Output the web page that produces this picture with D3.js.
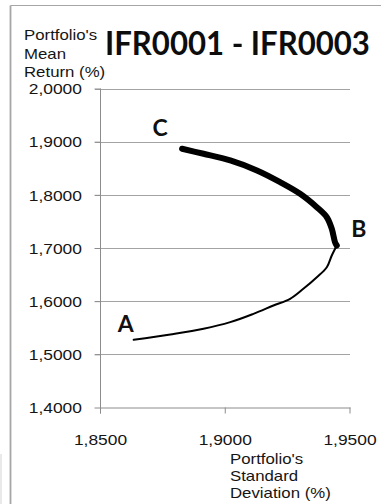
<!DOCTYPE html>
<html>
<head>
<meta charset="utf-8">
<script src="https://cdn.jsdelivr.net/npm/d3@7"></script>
<style>
  html, body { margin: 0; padding: 0; background: #fff; }
  svg { display: block; }
</style>
</head>
<body>
<svg id="chart" width="381" height="504"></svg>
<script>
// Two-asset portfolio frontier for IFR0001 / IFR0003 (std. deviation vs mean return, %)
const chartTitle = "IFR0001 - IFR0003";
const yTitleLines = ["Portfolio's", "Mean", "Return (%)"];
const xTitleLines = ["Portfolio's", "Standard", "Deviation (%)"];

const xTicks = [1.85, 1.90, 1.95];
const yTicks = [1.4, 1.5, 1.6, 1.7, 1.8, 1.9, 2.0];

// Lower (inefficient) branch, from A up to the minimum-variance point B
const lowerStd = [1.8633, 1.8780, 1.8913, 1.9020, 1.9113, 1.9193, 1.9260, 1.9313, 1.9367, 1.9407, 1.9427, 1.9447];
const lowerRet = [1.5273, 1.5373, 1.5480, 1.5605, 1.5762, 1.5918, 1.6045, 1.6233, 1.6451, 1.6639, 1.6859, 1.7047];

// Upper (efficient) branch, from B up to C
const upperStd = [1.9447, 1.9440, 1.9427, 1.9407, 1.9367, 1.9300, 1.9220, 1.9127, 1.9020, 1.8913, 1.8827];
const upperRet = [1.7047, 1.7109, 1.7361, 1.7579, 1.7767, 1.8019, 1.8238, 1.8458, 1.8646, 1.8772, 1.8866];

// Named corner portfolios
const pointNames = ["A", "B", "C"];
const pointStd = [1.8633, 1.9447, 1.8827];
const pointRet = [1.5273, 1.7047, 1.8866];

const svg = d3.select("#chart");
const SX = 1.2;           // horizontal stretch of the sans-serif labels
const sans = "'Liberation Sans', Arial, sans-serif";
const bold = "Lato, 'Open Sans', sans-serif";

const x = d3.scaleLinear().domain([1.85, 1.95]).range([100.5, 350]);
const y = d3.scaleLinear().domain([1.4, 2.0]).range([407.5, 88.5]);

const comma = d3.formatLocale({ decimal: ",", thousands: ".", grouping: [3], currency: ["", ""] }).format(".4f");

// outer frame
svg.append("line").attr("x1", 10.5).attr("y1", 5.5).attr("x2", 381).attr("y2", 5.5)
  .attr("stroke", "#a6a6a6").attr("stroke-width", 1.2);
svg.append("line").attr("x1", 10.5).attr("y1", 5.5).attr("x2", 10.5).attr("y2", 504)
  .attr("stroke", "#a6a6a6").attr("stroke-width", 1.8);
svg.append("line").attr("x1", 1).attr("y1", 454).attr("x2", 1).attr("y2", 504)
  .attr("stroke", "#e2e2e2").attr("stroke-width", 1.5);

// horizontal gridlines
svg.append("g").selectAll("line").data(yTicks.filter(d => d !== 1.4)).join("line")
  .attr("x1", 95).attr("x2", 350)
  .attr("y1", d => Math.round(y(d)) + 0.5).attr("y2", d => Math.round(y(d)) + 0.5)
  .attr("stroke", "#a3a3a3").attr("stroke-width", 1);

// y axis
const yAxis = svg.append("g").attr("transform", "translate(100.5,0)")
  .call(d3.axisLeft(y).tickValues(yTicks).tickFormat(comma).tickSizeInner(6).tickSizeOuter(0));
yAxis.select(".domain").attr("stroke", "#8c8c8c");
yAxis.selectAll(".tick line").attr("stroke", "#8c8c8c");
yAxis.selectAll(".tick text")
  .attr("x", -15.5).attr("dy", "0.36em")
  .attr("transform", `scale(${SX},1)`)
  .style("font-family", sans).style("font-size", "14.5px").attr("fill", "#151515");

// x axis
const xAxis = svg.append("g").attr("transform", "translate(0,407.5)")
  .call(d3.axisBottom(x).tickValues(xTicks).tickFormat(comma).tickSizeInner(6).tickSizeOuter(0));
xAxis.select(".domain").attr("stroke", "#8c8c8c");
xAxis.selectAll(".tick line").attr("stroke", "#8c8c8c");
xAxis.selectAll(".tick text")
  .attr("y", 37.5).attr("dy", 0)
  .attr("transform", `scale(${SX},1)`)
  .style("font-family", sans).style("font-size", "14.5px").attr("fill", "#151515");
xAxis.selectAll(".tick").attr("transform", d => `translate(${x(d)},0)`);
yAxis.select(".domain").attr("d", `M0,${y(2.0)}V${y(1.4) + 6}`);

// stretched text helper
function stretchedText(px, py, str, anchor, family, size, weight) {
  return svg.append("text")
    .attr("transform", `translate(${px},${py}) scale(${SX},1)`)
    .attr("text-anchor", anchor)
    .style("font-family", family).style("font-size", size + "px")
    .style("font-weight", weight || "normal")
    .attr("fill", "#151515")
    .text(str);
}

// axis titles
const yTitleBase = [40, 59, 77];
yTitleLines.forEach((s, i) => stretchedText(24, yTitleBase[i], s, "start", sans, 14));
const xTitleBase = [464, 481, 498];
xTitleLines.forEach((s, i) => stretchedText(230, xTitleBase[i], s, "start", sans, 14));

// chart title, fitted to its band
const title = svg.append("text")
  .attr("x", 105).attr("y", 55)
  .style("font-family", bold).style("font-size", "32px").style("font-weight", "bold")
  .attr("fill", "#0d0d0d").text(chartTitle);
const tw = title.node().getComputedTextLength();
title.attr("transform", `translate(105,0) scale(${265 / tw},1) translate(-105,0)`);

// frontier curves
const lower = lowerStd.map((s, i) => [s, lowerRet[i]]);
const upper = upperStd.map((s, i) => [s, upperRet[i]]);
const line = d3.line().x(d => x(d[0])).y(d => y(d[1])).curve(d3.curveCatmullRom.alpha(0.5));

svg.append("path").datum(lower).attr("d", line)
  .attr("fill", "none").attr("stroke", "#000").attr("stroke-width", 2)
  .attr("stroke-linecap", "round").attr("stroke-linejoin", "round");
svg.append("path").datum(upper).attr("d", line)
  .attr("fill", "none").attr("stroke", "#000").attr("stroke-width", 6)
  .attr("stroke-linecap", "round").attr("stroke-linejoin", "round");

// corner portfolio labels
const labelOffset = { A: [-8, -8], B: [22, -9], C: [-22, -13] };
pointNames.forEach((n, i) => {
  const [dx, dy] = labelOffset[n];
  svg.append("text")
    .attr("x", x(pointStd[i]) + dx).attr("y", y(pointRet[i]) + dy)
    .attr("text-anchor", "middle")
    .style("font-family", bold).style("font-size", "23px").style("font-weight", "bold")
    .attr("fill", "#111").text(n);
});
</script>
</body>
</html>
